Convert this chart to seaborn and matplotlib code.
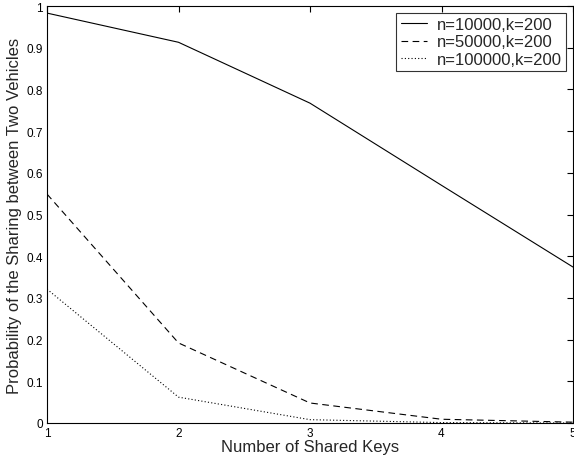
import matplotlib
matplotlib.use("Agg")
import matplotlib.pyplot as plt
import seaborn as sns
import pandas as pd

shared_keys = [1, 2, 3, 4, 5]
p_n10000 = [0.983, 0.913, 0.767, 0.570, 0.374]
p_n50000 = [0.549, 0.192, 0.048, 0.009, 0.002]
p_n100000 = [0.321, 0.062, 0.008, 0.001, 0.000]
labels = ["n=10000,k=200", "n=50000,k=200", "n=100000,k=200"]

rows = []
for lab, vals in zip(labels, [p_n10000, p_n50000, p_n100000]):
    for x, v in zip(shared_keys, vals):
        rows.append({"keys": x, "p": v, "series": lab})
df = pd.DataFrame(rows)

sns.set_style("white")
plt.rcParams['font.family'] = ['Liberation Sans', 'DejaVu Sans']

fig = plt.figure(figsize=(5.74, 4.6), dpi=100)
ax = fig.add_axes([47/574, 36/460, 526/574, 417/460])

styles = {"n=10000,k=200": "-", "n=50000,k=200": (0, (6, 4)), "n=100000,k=200": (0, (1, 2))}
for lab in labels:
    sub = df[df.series == lab]
    sns.lineplot(data=sub, x="keys", y="p", ax=ax, color="black", linewidth=0.8,
                 linestyle=styles[lab], label=lab)

ax.set_xlim(1, 5)
ax.set_ylim(0, 1)
ax.set_xticks([1, 2, 3, 4, 5])
ax.set_yticks([0, 0.1, 0.2, 0.3, 0.4, 0.5, 0.6, 0.7, 0.8, 0.9, 1])
ax.set_yticklabels(["0", "0.1", "0.2", "0.3", "0.4", "0.5", "0.6", "0.7", "0.8", "0.9", "1"])
ax.tick_params(direction="in", top=True, right=True, length=4, width=0.8, labelsize=8.5, colors="black", pad=3)
for s in ax.spines.values():
    s.set_color("black")
    s.set_linewidth(0.8)
ax.set_xlabel("Number of Shared Keys", fontsize=12, labelpad=0)
ax.set_ylabel("Probability of the Sharing between Two Vehicles", fontsize=12, labelpad=3)

leg = ax.legend(loc="upper right", fontsize=12, frameon=True, fancybox=False, handlelength=1.6,
                borderaxespad=0.4, labelspacing=0.15, borderpad=0.25, handletextpad=0.6)
leg.get_frame().set_edgecolor("black")
leg.get_frame().set_linewidth(0.8)

fig.savefig("out.png", dpi=100)
